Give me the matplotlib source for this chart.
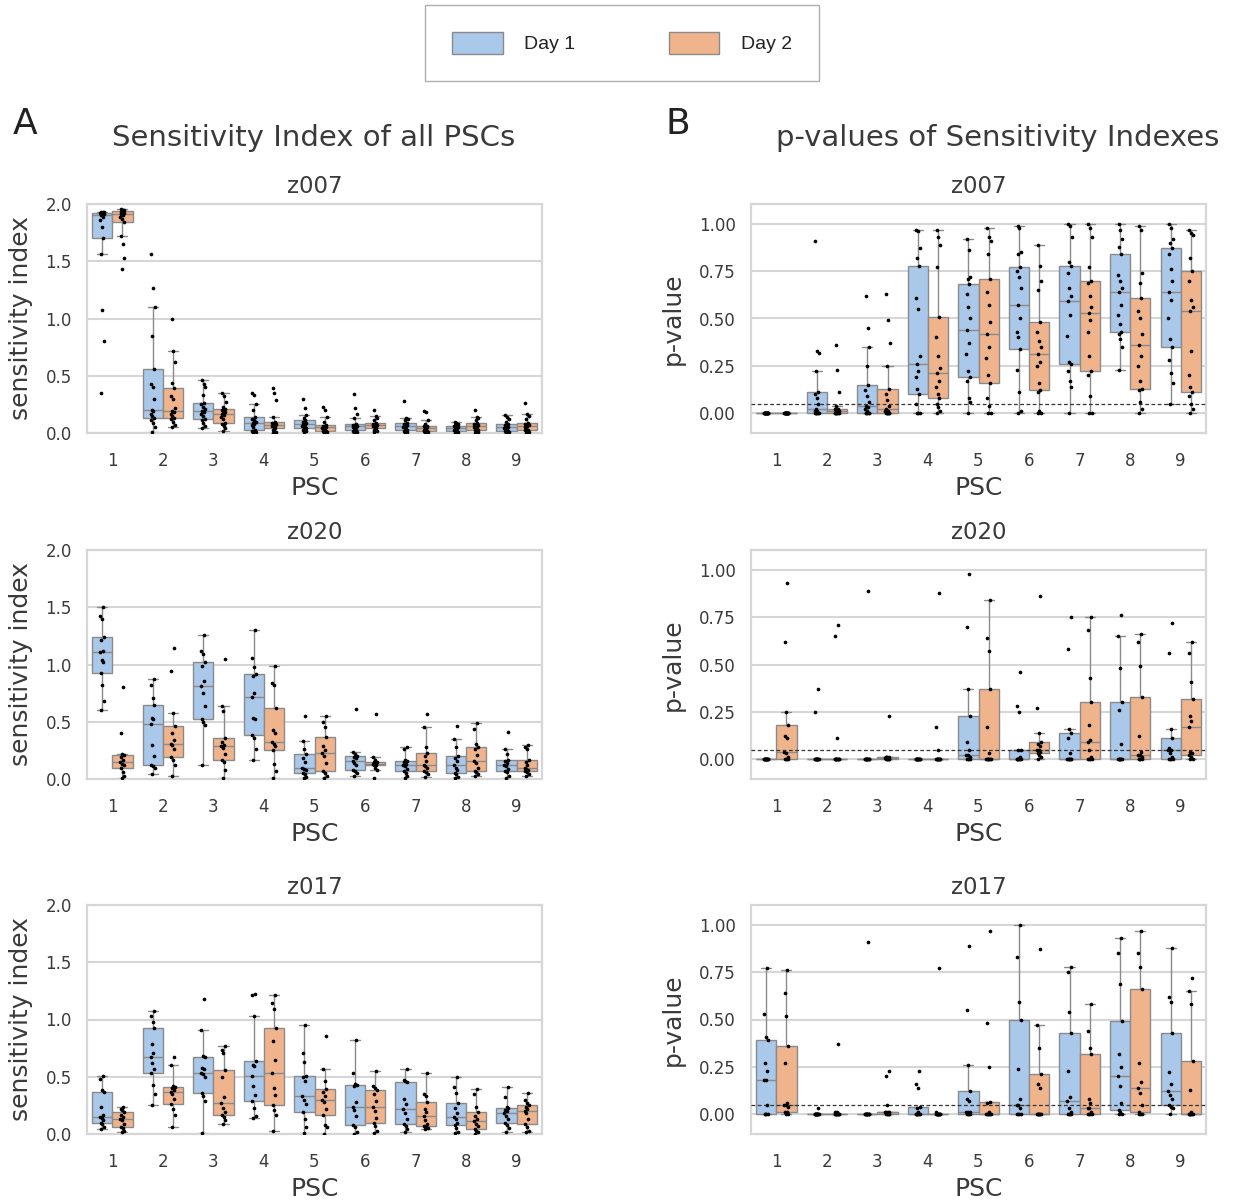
import numpy as np
import matplotlib.pyplot as plt
import seaborn as sns
from matplotlib.patches import Patch

sns.set_style("whitegrid")
plt.rcParams['font.family'] = ['DejaVu Sans']

psc_labels = ['1', '2', '3', '4', '5', '6', '7', '8', '9']
day_labels = ['Day 1', 'Day 2']
subjects = ['z007', 'z020', 'z017']

# ---- sensitivity index, one list of values per PSC ----
si_z007_day1 = [
    [0.35, 0.80, 1.07, 1.56, 1.70, 1.80, 1.86, 1.89, 1.90, 1.91, 1.91, 1.92, 1.92, 1.92, 1.93, 1.93, 1.93],
    [0.01, 0.05, 0.09, 0.11, 0.13, 0.15, 0.17, 0.19, 0.20, 0.30, 0.40, 0.43, 0.56, 0.85, 1.10, 1.27, 1.56],
    [0.04, 0.06, 0.09, 0.11, 0.12, 0.15, 0.17, 0.18, 0.19, 0.21, 0.23, 0.25, 0.26, 0.33, 0.40, 0.43, 0.46],
    [0.00, 0.01, 0.02, 0.02, 0.03, 0.05, 0.07, 0.08, 0.09, 0.10, 0.11, 0.12, 0.14, 0.20, 0.25, 0.33, 0.35],
    [0.01, 0.02, 0.03, 0.03, 0.04, 0.05, 0.06, 0.07, 0.08, 0.09, 0.10, 0.10, 0.11, 0.13, 0.16, 0.22, 0.30],
    [0.00, 0.01, 0.02, 0.02, 0.03, 0.04, 0.05, 0.05, 0.06, 0.06, 0.07, 0.07, 0.08, 0.13, 0.17, 0.22, 0.34],
    [0.00, 0.01, 0.02, 0.02, 0.03, 0.04, 0.05, 0.05, 0.06, 0.07, 0.08, 0.08, 0.09, 0.11, 0.12, 0.13, 0.28],
    [0.00, 0.01, 0.01, 0.02, 0.02, 0.03, 0.03, 0.04, 0.04, 0.05, 0.05, 0.06, 0.06, 0.07, 0.08, 0.09, 0.10],
    [0.00, 0.01, 0.01, 0.02, 0.02, 0.03, 0.04, 0.04, 0.05, 0.05, 0.06, 0.07, 0.08, 0.10, 0.12, 0.14, 0.16],
]
si_z007_day2 = [
    [1.43, 1.53, 1.65, 1.72, 1.84, 1.87, 1.89, 1.90, 1.91, 1.92, 1.92, 1.93, 1.94, 1.94, 1.95, 1.95, 1.96],
    [0.05, 0.07, 0.10, 0.12, 0.13, 0.15, 0.17, 0.18, 0.19, 0.22, 0.30, 0.32, 0.39, 0.44, 0.62, 0.72, 1.00],
    [0.02, 0.04, 0.06, 0.08, 0.09, 0.12, 0.14, 0.16, 0.17, 0.18, 0.19, 0.20, 0.21, 0.23, 0.27, 0.32, 0.35],
    [0.00, 0.01, 0.02, 0.03, 0.04, 0.05, 0.06, 0.06, 0.07, 0.08, 0.09, 0.09, 0.10, 0.14, 0.29, 0.35, 0.39],
    [0.00, 0.01, 0.01, 0.02, 0.02, 0.03, 0.04, 0.04, 0.05, 0.05, 0.06, 0.06, 0.07, 0.10, 0.14, 0.20, 0.23],
    [0.01, 0.02, 0.03, 0.03, 0.04, 0.05, 0.06, 0.06, 0.07, 0.07, 0.08, 0.08, 0.09, 0.11, 0.13, 0.15, 0.20],
    [0.00, 0.01, 0.01, 0.02, 0.02, 0.03, 0.03, 0.04, 0.04, 0.05, 0.05, 0.06, 0.06, 0.08, 0.11, 0.18, 0.19],
    [0.00, 0.01, 0.02, 0.03, 0.03, 0.04, 0.05, 0.05, 0.06, 0.07, 0.08, 0.08, 0.09, 0.11, 0.13, 0.14, 0.20],
    [0.00, 0.01, 0.02, 0.03, 0.03, 0.04, 0.05, 0.06, 0.06, 0.07, 0.08, 0.08, 0.09, 0.12, 0.15, 0.17, 0.26],
]
si_z020_day1 = [
    [0.60, 0.68, 0.82, 0.93, 1.02, 1.04, 1.11, 1.12, 1.21, 1.24, 1.40, 1.42, 1.50],
    [0.04, 0.10, 0.11, 0.12, 0.20, 0.30, 0.48, 0.52, 0.53, 0.65, 0.71, 0.82, 0.87],
    [0.12, 0.47, 0.50, 0.52, 0.64, 0.75, 0.81, 0.86, 0.99, 1.02, 1.09, 1.12, 1.26],
    [0.17, 0.26, 0.36, 0.38, 0.52, 0.53, 0.72, 0.75, 0.90, 0.92, 0.98, 1.06, 1.30],
    [0.01, 0.02, 0.04, 0.05, 0.08, 0.09, 0.10, 0.15, 0.18, 0.22, 0.26, 0.33, 0.55],
    [0.03, 0.05, 0.07, 0.08, 0.12, 0.14, 0.16, 0.18, 0.19, 0.20, 0.22, 0.24, 0.61],
    [0.01, 0.03, 0.05, 0.07, 0.09, 0.11, 0.12, 0.13, 0.15, 0.16, 0.17, 0.26, 0.28],
    [0.01, 0.02, 0.04, 0.05, 0.08, 0.10, 0.12, 0.16, 0.18, 0.20, 0.28, 0.35, 0.46],
    [0.01, 0.03, 0.06, 0.07, 0.09, 0.11, 0.12, 0.14, 0.16, 0.17, 0.22, 0.26, 0.41],
]
si_z020_day2 = [
    [0.01, 0.03, 0.06, 0.10, 0.12, 0.13, 0.15, 0.17, 0.19, 0.21, 0.22, 0.40, 0.80],
    [0.03, 0.12, 0.17, 0.19, 0.26, 0.30, 0.31, 0.34, 0.40, 0.46, 0.58, 0.94, 1.14],
    [0.01, 0.08, 0.15, 0.17, 0.22, 0.27, 0.29, 0.30, 0.32, 0.36, 0.59, 0.64, 1.05],
    [0.01, 0.07, 0.13, 0.25, 0.29, 0.31, 0.32, 0.40, 0.43, 0.62, 0.82, 0.84, 0.99],
    [0.01, 0.03, 0.05, 0.07, 0.14, 0.20, 0.23, 0.25, 0.29, 0.37, 0.45, 0.50, 0.55],
    [0.01, 0.08, 0.10, 0.12, 0.12, 0.13, 0.13, 0.14, 0.15, 0.15, 0.17, 0.19, 0.57],
    [0.02, 0.04, 0.06, 0.07, 0.10, 0.11, 0.12, 0.16, 0.20, 0.23, 0.28, 0.45, 0.57],
    [0.03, 0.04, 0.06, 0.07, 0.10, 0.14, 0.16, 0.21, 0.26, 0.28, 0.31, 0.44, 0.49],
    [0.03, 0.04, 0.06, 0.07, 0.08, 0.09, 0.10, 0.12, 0.15, 0.17, 0.26, 0.28, 0.30],
]
si_z017_day1 = [
    [0.04, 0.06, 0.09, 0.10, 0.12, 0.14, 0.15, 0.17, 0.24, 0.37, 0.38, 0.48, 0.51],
    [0.25, 0.35, 0.43, 0.53, 0.57, 0.62, 0.67, 0.71, 0.79, 0.93, 0.98, 1.03, 1.07],
    [0.01, 0.29, 0.33, 0.36, 0.50, 0.52, 0.53, 0.57, 0.58, 0.67, 0.68, 0.91, 1.18],
    [0.14, 0.16, 0.23, 0.29, 0.34, 0.42, 0.51, 0.59, 0.60, 0.64, 1.03, 1.21, 1.22],
    [0.01, 0.06, 0.13, 0.19, 0.26, 0.30, 0.33, 0.46, 0.50, 0.51, 0.63, 0.71, 0.95],
    [0.00, 0.02, 0.06, 0.08, 0.16, 0.21, 0.24, 0.28, 0.42, 0.43, 0.44, 0.53, 0.82],
    [0.02, 0.04, 0.07, 0.09, 0.13, 0.18, 0.22, 0.26, 0.31, 0.45, 0.46, 0.47, 0.57],
    [0.01, 0.02, 0.05, 0.08, 0.10, 0.13, 0.15, 0.18, 0.23, 0.27, 0.36, 0.41, 0.50],
    [0.02, 0.05, 0.08, 0.10, 0.13, 0.16, 0.18, 0.20, 0.21, 0.23, 0.24, 0.32, 0.41],
]
si_z017_day2 = [
    [0.02, 0.03, 0.05, 0.06, 0.09, 0.12, 0.13, 0.15, 0.17, 0.19, 0.21, 0.22, 0.24],
    [0.06, 0.17, 0.22, 0.26, 0.31, 0.35, 0.37, 0.38, 0.40, 0.41, 0.42, 0.60, 0.67],
    [0.09, 0.12, 0.15, 0.17, 0.19, 0.23, 0.27, 0.32, 0.50, 0.56, 0.71, 0.73, 0.77],
    [0.03, 0.17, 0.21, 0.25, 0.34, 0.40, 0.53, 0.65, 0.81, 0.93, 1.09, 1.14, 1.21],
    [0.00, 0.06, 0.08, 0.17, 0.22, 0.28, 0.30, 0.33, 0.37, 0.39, 0.46, 0.57, 0.86],
    [0.01, 0.03, 0.07, 0.10, 0.14, 0.20, 0.24, 0.29, 0.35, 0.38, 0.40, 0.42, 0.55],
    [0.04, 0.05, 0.06, 0.07, 0.09, 0.12, 0.16, 0.19, 0.22, 0.28, 0.33, 0.35, 0.53],
    [0.00, 0.02, 0.03, 0.04, 0.07, 0.09, 0.11, 0.13, 0.16, 0.19, 0.24, 0.35, 0.39],
    [0.02, 0.03, 0.06, 0.09, 0.13, 0.18, 0.20, 0.22, 0.24, 0.25, 0.27, 0.30, 0.36],
]

# ---- p-values of the sensitivity indexes ----
pv_z007_day1 = [
    [0.00, 0.00, 0.00, 0.00, 0.00, 0.00, 0.00, 0.00, 0.00, 0.00, 0.00, 0.00, 0.00, 0.00, 0.00, 0.00, 0.00],
    [0.00, 0.00, 0.00, 0.00, 0.00, 0.00, 0.01, 0.01, 0.02, 0.05, 0.08, 0.10, 0.11, 0.22, 0.32, 0.33, 0.91],
    [0.00, 0.00, 0.00, 0.00, 0.00, 0.01, 0.02, 0.03, 0.04, 0.06, 0.09, 0.12, 0.15, 0.25, 0.35, 0.45, 0.62],
    [0.00, 0.00, 0.00, 0.05, 0.10, 0.13, 0.19, 0.22, 0.26, 0.30, 0.55, 0.61, 0.78, 0.82, 0.87, 0.96, 0.97],
    [0.00, 0.06, 0.08, 0.17, 0.19, 0.22, 0.31, 0.37, 0.44, 0.50, 0.56, 0.63, 0.68, 0.71, 0.72, 0.86, 0.92],
    [0.00, 0.01, 0.11, 0.23, 0.34, 0.40, 0.43, 0.50, 0.57, 0.66, 0.72, 0.75, 0.77, 0.84, 0.85, 0.98, 0.99],
    [0.00, 0.14, 0.17, 0.22, 0.26, 0.27, 0.41, 0.52, 0.59, 0.62, 0.66, 0.74, 0.78, 0.80, 0.93, 0.99, 1.00],
    [0.23, 0.35, 0.39, 0.42, 0.43, 0.47, 0.52, 0.57, 0.64, 0.66, 0.70, 0.73, 0.84, 0.88, 0.92, 0.97, 1.00],
    [0.05, 0.16, 0.21, 0.28, 0.35, 0.39, 0.50, 0.60, 0.64, 0.70, 0.76, 0.84, 0.87, 0.90, 0.92, 0.98, 1.00],
]
pv_z007_day2 = [
    [0.00, 0.00, 0.00, 0.00, 0.00, 0.00, 0.00, 0.00, 0.00, 0.00, 0.00, 0.00, 0.00, 0.00, 0.00, 0.00, 0.00],
    [0.00, 0.00, 0.00, 0.00, 0.00, 0.00, 0.00, 0.01, 0.01, 0.01, 0.01, 0.02, 0.02, 0.04, 0.11, 0.23, 0.36],
    [0.00, 0.00, 0.00, 0.00, 0.00, 0.00, 0.01, 0.01, 0.02, 0.04, 0.07, 0.10, 0.13, 0.25, 0.37, 0.49, 0.63],
    [0.00, 0.01, 0.03, 0.05, 0.08, 0.10, 0.14, 0.17, 0.21, 0.24, 0.30, 0.40, 0.51, 0.77, 0.89, 0.93, 0.97],
    [0.00, 0.00, 0.04, 0.08, 0.16, 0.20, 0.29, 0.35, 0.42, 0.48, 0.57, 0.64, 0.71, 0.84, 0.91, 0.93, 0.98],
    [0.00, 0.00, 0.01, 0.11, 0.12, 0.16, 0.25, 0.27, 0.31, 0.35, 0.38, 0.43, 0.48, 0.65, 0.70, 0.78, 0.89],
    [0.00, 0.00, 0.09, 0.20, 0.22, 0.30, 0.43, 0.49, 0.53, 0.56, 0.62, 0.69, 0.70, 0.77, 0.93, 0.98, 1.00],
    [0.00, 0.02, 0.06, 0.12, 0.13, 0.17, 0.25, 0.30, 0.36, 0.42, 0.50, 0.54, 0.61, 0.69, 0.74, 0.97, 0.99],
    [0.00, 0.02, 0.05, 0.09, 0.11, 0.14, 0.20, 0.33, 0.54, 0.56, 0.60, 0.70, 0.75, 0.82, 0.94, 0.95, 0.97],
]
pv_z020_day1 = [
    [0.00, 0.00, 0.00, 0.00, 0.00, 0.00, 0.00, 0.00, 0.00, 0.00, 0.00, 0.00, 0.00],
    [0.00, 0.00, 0.00, 0.00, 0.00, 0.00, 0.00, 0.00, 0.00, 0.00, 0.00, 0.25, 0.37],
    [0.00, 0.00, 0.00, 0.00, 0.00, 0.00, 0.00, 0.00, 0.00, 0.00, 0.00, 0.00, 0.89],
    [0.00, 0.00, 0.00, 0.00, 0.00, 0.00, 0.00, 0.00, 0.00, 0.00, 0.00, 0.00, 0.00],
    [0.00, 0.00, 0.00, 0.00, 0.01, 0.02, 0.02, 0.05, 0.09, 0.23, 0.37, 0.70, 0.98],
    [0.00, 0.00, 0.00, 0.00, 0.00, 0.00, 0.00, 0.01, 0.05, 0.05, 0.25, 0.28, 0.46],
    [0.00, 0.00, 0.00, 0.00, 0.00, 0.00, 0.00, 0.03, 0.11, 0.14, 0.16, 0.58, 0.75],
    [0.00, 0.00, 0.00, 0.00, 0.00, 0.00, 0.00, 0.08, 0.26, 0.30, 0.48, 0.65, 0.76],
    [0.00, 0.00, 0.00, 0.00, 0.01, 0.03, 0.05, 0.05, 0.06, 0.11, 0.16, 0.56, 0.72],
]
pv_z020_day2 = [
    [0.00, 0.00, 0.00, 0.00, 0.01, 0.03, 0.04, 0.11, 0.12, 0.18, 0.25, 0.62, 0.93],
    [0.00, 0.00, 0.00, 0.00, 0.00, 0.00, 0.00, 0.00, 0.00, 0.00, 0.11, 0.65, 0.71],
    [0.00, 0.00, 0.00, 0.00, 0.00, 0.00, 0.005, 0.005, 0.01, 0.01, 0.01, 0.01, 0.23],
    [0.00, 0.00, 0.00, 0.00, 0.00, 0.00, 0.00, 0.00, 0.00, 0.00, 0.05, 0.17, 0.88],
    [0.00, 0.00, 0.00, 0.00, 0.00, 0.00, 0.00, 0.03, 0.17, 0.37, 0.57, 0.64, 0.84],
    [0.00, 0.01, 0.02, 0.03, 0.04, 0.05, 0.05, 0.07, 0.08, 0.09, 0.14, 0.27, 0.86],
    [0.00, 0.00, 0.00, 0.00, 0.01, 0.05, 0.09, 0.10, 0.18, 0.30, 0.43, 0.68, 0.75],
    [0.00, 0.00, 0.00, 0.00, 0.01, 0.02, 0.02, 0.04, 0.12, 0.33, 0.49, 0.62, 0.66],
    [0.00, 0.00, 0.01, 0.02, 0.03, 0.04, 0.17, 0.20, 0.23, 0.32, 0.41, 0.56, 0.62],
]
pv_z017_day1 = [
    [0.00, 0.00, 0.00, 0.00, 0.05, 0.18, 0.18, 0.23, 0.27, 0.39, 0.41, 0.53, 0.77],
    [0.00, 0.00, 0.00, 0.00, 0.00, 0.00, 0.00, 0.00, 0.00, 0.00, 0.00, 0.00, 0.03],
    [0.00, 0.00, 0.00, 0.00, 0.00, 0.00, 0.00, 0.00, 0.00, 0.00, 0.00, 0.00, 0.91],
    [0.00, 0.00, 0.00, 0.00, 0.00, 0.00, 0.00, 0.01, 0.03, 0.04, 0.14, 0.16, 0.23],
    [0.00, 0.00, 0.00, 0.00, 0.01, 0.01, 0.01, 0.07, 0.08, 0.12, 0.26, 0.55, 0.89],
    [0.00, 0.00, 0.00, 0.00, 0.03, 0.05, 0.05, 0.08, 0.24, 0.50, 0.59, 0.83, 1.00],
    [0.00, 0.00, 0.00, 0.00, 0.01, 0.03, 0.07, 0.09, 0.23, 0.43, 0.54, 0.75, 0.78],
    [0.00, 0.00, 0.01, 0.02, 0.06, 0.15, 0.20, 0.25, 0.32, 0.49, 0.69, 0.85, 0.93],
    [0.00, 0.03, 0.04, 0.05, 0.08, 0.10, 0.12, 0.16, 0.22, 0.43, 0.59, 0.62, 0.88],
]
pv_z017_day2 = [
    [0.00, 0.00, 0.01, 0.01, 0.04, 0.05, 0.05, 0.06, 0.27, 0.36, 0.52, 0.64, 0.76],
    [0.00, 0.00, 0.00, 0.00, 0.00, 0.00, 0.00, 0.00, 0.00, 0.00, 0.01, 0.01, 0.37],
    [0.00, 0.00, 0.00, 0.00, 0.00, 0.005, 0.01, 0.01, 0.01, 0.01, 0.05, 0.20, 0.23],
    [0.00, 0.00, 0.00, 0.00, 0.00, 0.00, 0.00, 0.00, 0.00, 0.00, 0.00, 0.01, 0.77],
    [0.00, 0.00, 0.00, 0.00, 0.00, 0.00, 0.00, 0.01, 0.06, 0.065, 0.25, 0.48, 0.97],
    [0.00, 0.00, 0.00, 0.00, 0.00, 0.00, 0.00, 0.14, 0.16, 0.21, 0.35, 0.47, 0.87],
    [0.00, 0.00, 0.00, 0.00, 0.01, 0.03, 0.03, 0.06, 0.08, 0.32, 0.35, 0.44, 0.58],
    [0.00, 0.00, 0.00, 0.01, 0.05, 0.11, 0.14, 0.17, 0.27, 0.66, 0.78, 0.85, 0.97],
    [0.00, 0.00, 0.00, 0.00, 0.00, 0.00, 0.00, 0.01, 0.13, 0.28, 0.58, 0.65, 0.72],
]

p_threshold = 0.05

day_colors = ['#aac8ea', '#f0b48c']
edge_gray = '#8a8a8a'
grid_gray = '#d6d6d6'
text_col = '#3a3a3a'


def spread(n, width=0.09):
    # fixed low-discrepancy spread for the strip dots
    return ((np.arange(n) * 0.6180339887 + 0.31) % 1.0 - 0.5) * width


def draw_panel(ax, day1, day2, ylabel, pvals=False):
    centers = np.arange(len(psc_labels))
    for vals, shift, col in ((day1, -0.2, day_colors[0]), (day2, 0.2, day_colors[1])):
        pos = centers + shift
        ax.boxplot(vals, positions=pos, widths=0.4, patch_artist=True,
                   showfliers=False, whis=1.5, manage_ticks=False,
                   boxprops=dict(facecolor=col, edgecolor=edge_gray, linewidth=1.0),
                   whiskerprops=dict(color=edge_gray, linewidth=1.0),
                   capprops=dict(color=edge_gray, linewidth=1.0),
                   medianprops=dict(color=edge_gray, linewidth=1.0),
                   zorder=2)
        for x, v in zip(pos, vals):
            ax.scatter(x + spread(len(v)), v, s=7, color='black',
                       linewidths=0, zorder=4)
    ax.set_xlim(-0.5, len(psc_labels) - 0.5)
    ax.set_xticks(centers)
    ax.set_xticklabels(psc_labels)
    if pvals:
        ax.set_ylim(-0.105, 1.105)
        ax.set_yticks([0.0, 0.25, 0.5, 0.75, 1.0])
        ax.set_yticklabels(['0.00', '0.25', '0.50', '0.75', '1.00'])
        ax.axhline(p_threshold, color='#333333', linestyle=(0, (3, 2)),
                   linewidth=0.9, zorder=3)
        ax.set_ylabel(ylabel, fontsize=18, color=text_col, labelpad=10)
    else:
        ax.set_ylim(0, 2.0)
        ax.set_yticks([0.0, 0.5, 1.0, 1.5, 2.0])
        ax.set_ylabel(ylabel, fontsize=18, color=text_col, labelpad=9)
    ax.set_xlabel('PSC', fontsize=18, color=text_col, labelpad=4)
    ax.grid(axis='x', visible=False)
    ax.grid(axis='y', color=grid_gray, linewidth=1.5)
    ax.set_axisbelow(True)
    for sp in ax.spines.values():
        sp.set_color(grid_gray)
        sp.set_linewidth(1.6)
    ax.tick_params(axis='both', labelsize=12, labelcolor=text_col, length=0, pad=11)
    ax.tick_params(axis='x', pad=14)


fig = plt.figure(figsize=(12.33, 12.0), dpi=100)

left_x, right_x, ax_w = 87 / 1233, 751 / 1233, 455 / 1233
row_tops = [204, 550, 905]
ax_h = 229 / 1200

si_sets = [(si_z007_day1, si_z007_day2), (si_z020_day1, si_z020_day2), (si_z017_day1, si_z017_day2)]
pv_sets = [(pv_z007_day1, pv_z007_day2), (pv_z020_day1, pv_z020_day2), (pv_z017_day1, pv_z017_day2)]

for r, top in enumerate(row_tops):
    bottom = 1 - (top + 229) / 1200
    ax_l = fig.add_axes([left_x, bottom, ax_w, ax_h])
    draw_panel(ax_l, si_sets[r][0], si_sets[r][1], 'sensitivity index')
    ax_l.set_title(subjects[r], fontsize=16.5, color=text_col, pad=8)
    ax_r = fig.add_axes([right_x, bottom, ax_w, ax_h])
    draw_panel(ax_r, pv_sets[r][0], pv_sets[r][1], 'p-value', pvals=True)
    ax_r.set_title(subjects[r], fontsize=16.5, color=text_col, pad=8)

fig.text(314 / 1233, 1 - 138 / 1200, 'Sensitivity Index of all PSCs', fontsize=21,
         color=text_col, ha='center', va='center')
fig.text(998 / 1233, 1 - 138 / 1200, 'p-values of Sensitivity Indexes', fontsize=21,
         color=text_col, ha='center', va='center')
fig.text(25 / 1233, 1 - 124 / 1200, 'A', fontsize=26, color='#222222', ha='center', va='center')
fig.text(678 / 1233, 1 - 124 / 1200, 'B', fontsize=26, color='#222222', ha='center', va='center')

handles = [Patch(facecolor=c, edgecolor=edge_gray, linewidth=1.0) for c in day_colors]
leg = fig.legend(handles, day_labels, loc='center', bbox_to_anchor=(622 / 1233, 1 - 43 / 1200),
                 ncol=2, frameon=True, fancybox=False, handlelength=2.6,
                 handleheight=1.4, handletextpad=1.1, columnspacing=4.8, borderpad=1.4,
                 prop={'family': 'Liberation Sans', 'size': 14})
leg.get_frame().set_edgecolor('#9a9a9a')
leg.get_frame().set_linewidth(1.0)
for t in leg.get_texts():
    t.set_color('#222222')

fig.savefig('out.png', dpi=100)
